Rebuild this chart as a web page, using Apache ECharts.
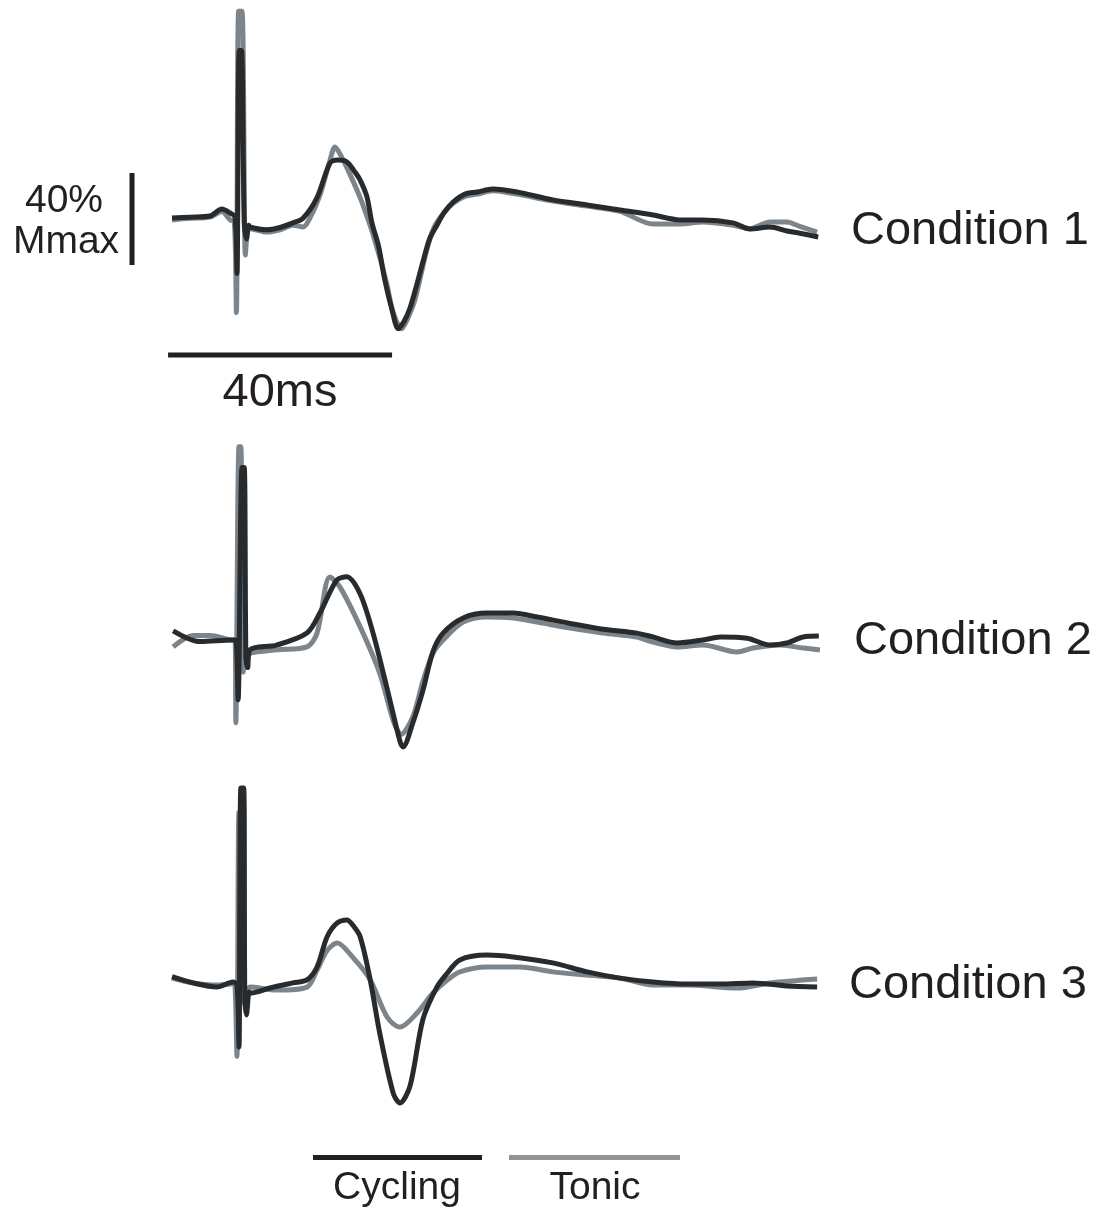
<!DOCTYPE html>
<html><head><meta charset="utf-8">
<script src="https://cdn.jsdelivr.net/npm/echarts@6/dist/echarts.min.js"></script>
<style>html,body{margin:0;padding:0;background:#fff}#c{width:1100px;height:1215px}</style>
</head><body><div id="c"></div>
<script>
// [time ms, amplitude %Mmax]
const cycling1 = [[0,-0.9],[3.2,-0.5],[6.8,0],[8.9,3],[10.4,1.3],[11.25,-0.4],[11.6,-25],[12.0,72],[12.4,72],[12.9,-3],[13.3,-10],[13.7,-4],[13.9,-4.8],[16.9,-6],[19.3,-5],[21.6,-3],[23.4,-1],[25.9,8],[28.2,23],[29.5,24.3],[31.25,23.5],[32.7,19],[33.6,15.6],[34.8,8.4],[35.7,-3],[36.9,-13.3],[38.0,-27.8],[39.3,-40.9],[40.4,-49],[41.4,-46],[42.5,-40],[43.7,-30],[44.8,-20],[46,-10],[47.3,-4],[48.6,1.5],[50.2,6],[52.3,9.5],[54.5,10.4],[57.3,11.7],[61.6,10.4],[68,7],[74.1,4.8],[80,2.6],[85.9,0.4],[90.7,-1.7],[94.8,-1.7],[100.2,-3],[103.2,-5.7],[106.8,-4.8],[109.8,-6.5],[112.1,-7.5],[115.4,-9.1]];
const tonic1 = [[0,-1.7],[3.2,-1],[6.8,-0.5],[8.9,2],[10.4,-1.7],[11.1,-2],[11.5,-42],[11.9,89],[12.5,89],[13.1,-17],[13.5,-6],[13.9,-5.5],[16.9,-7],[19.3,-6],[21.6,-4],[23.4,-4.8],[24.6,-1],[26.4,9],[28.2,24],[29.1,30],[30.0,27],[31.8,18],[33.6,8],[34.8,0],[35.9,-8],[37.1,-18],[38.4,-30],[39.5,-42],[41,-49],[42,-45],[43.3,-37],[44.6,-24],[45.8,-12],[47,-4],[48.6,1.5],[50.2,5.5],[52.3,8.5],[54.5,9.5],[57.3,11],[61.6,9.5],[68,6.5],[74.1,4.3],[80,2],[85.9,-3.5],[90.7,-3.5],[94.8,-2.6],[100.2,-4],[103.2,-5.5],[106.8,-2.6],[109.8,-2.6],[112.1,-4.5],[115.2,-7]];
const cycling2 = [[0.2,4],[5,-0.7],[10.9,0],[11.4,0],[11.8,-26],[12.5,75],[12.9,75],[13.2,-8],[13.5,-12],[13.9,-4.3],[18.7,-2.2],[24.1,3],[26.4,11.7],[29.4,26],[31.2,27.5],[33.6,20],[35.9,3],[38.3,-20],[40.7,-44],[41.25,-46.5],[43,-36],[44.8,-22],[46.6,-5],[48.4,3],[52,9.6],[56.25,11.7],[60.9,11.7],[65.2,10],[71.1,7.2],[77,4.7],[83,3],[85.9,1.3],[90.2,-1.3],[94.8,0],[97.9,1.3],[102.7,0.8],[106.8,-2.2],[109.8,-1.3],[112.7,1.3],[115.5,1.7]];
const tonic2 = [[0.2,-3],[3.75,2],[6.8,2],[10.9,0],[11.25,0],[11.4,-36],[11.96,84],[12.3,84],[12.7,-14],[13.2,-8],[13.9,-5.8],[18.75,-4.3],[24.1,-3],[25.9,3],[28.2,27.4],[30,23],[33.6,5.7],[37.1,-14.5],[39.5,-35],[40.9,-41],[43,-33.5],[44.8,-18],[46.6,-5.8],[48.4,0],[52,7.8],[56.25,10],[60.9,9.6],[65.2,7.8],[71.1,5.2],[77,3],[83,1.3],[85.9,-0.9],[90.2,-3],[94.8,-2.2],[100.9,-5.2],[103.75,-3.5],[108.6,-2.2],[112.7,-3.5],[115.7,-4.3]];
const cycling3 = [[0,3.6],[3.75,0.9],[8,-0.9],[10.9,1.3],[11.6,0],[11.96,-27],[12.3,85.6],[12.8,85.6],[13.0,-5],[13.3,-13],[13.75,-3],[13.9,-3.5],[17.5,-1.3],[21.6,0.9],[24.1,2.2],[25.9,7.8],[27.7,21],[29.5,27],[31.25,28.3],[32.3,26],[33.6,21],[35.4,2.2],[37.1,-21],[39.5,-47],[40.7,-51.3],[42.5,-44],[44.8,-15],[47.3,-0.9],[49.1,5],[51.4,10.9],[56.25,13],[60.9,12.2],[68,9.6],[74.1,5.7],[80,3],[85.9,1.3],[92,0.4],[97.9,0.4],[103.75,0.9],[109.8,-0.4],[115.2,-0.9]];
const tonic3 = [[0,3],[3.75,0.9],[8,0],[10.9,0.5],[11.25,0],[11.6,-31],[11.96,75],[12.3,75],[12.9,-8],[13.4,-4],[13.9,-0.9],[18.75,-2.2],[24.1,-0.9],[25.9,6.5],[27.7,15],[29.5,18.3],[32.3,12],[35.4,2.2],[38.4,-13.9],[40.7,-18.3],[43.75,-12.2],[46.6,-3.5],[49.1,2],[51.4,5.7],[56.25,7.8],[62.1,7.8],[68,5.7],[74.1,4.3],[80,3],[85.9,0],[92,0],[100.9,-1.3],[106.8,0.9],[115.2,2.6]];
const conditionLabels = ['Condition 1','Condition 2','Condition 3'];
const seriesNames = ['Cycling','Tonic'];
const scaleBarMs = 40;
const scaleBarPct = 40;
const scaleTimeLabel = '40ms';
const scaleAmpLabel = ['40%','Mmax'];

const DARK = '#272b2e', GRAY = '#7d858b', INK = '#231f20', LEG_GRAY = '#939393';
const FONT = '"Liberation Sans", Arial, sans-serif';
const PX_MS = 5.6, PX_PCT = 2.3;
const xMin = -8, xMax = 116;
const baselines = [216, 640, 985];
const yMin = -65, yMax = 90;
const gridLeft = 172 + xMin * PX_MS;
const grids = baselines.map(b => ({left: gridLeft, width: (xMax - xMin) * PX_MS, top: b - yMax * PX_PCT, height: (yMax - yMin) * PX_PCT}));
const xAxes = grids.map((g,i) => ({type:'value', gridIndex:i, min:xMin, max:xMax, show:false}));
const yAxes = grids.map((g,i) => ({type:'value', gridIndex:i, min:yMin, max:yMax, show:false}));
const pairs = [[cycling1,tonic1],[cycling2,tonic2],[cycling3,tonic3]];
const series = [];
pairs.forEach((p,i) => {
  series.push({type:'line', name:seriesNames[1], xAxisIndex:i, yAxisIndex:i, data:p[1], symbol:'none', smooth:0.3, clip:false, lineStyle:{color:GRAY, width:5, join:'round'}, z:2, silent:true});
  series.push({type:'line', name:seriesNames[0], xAxisIndex:i, yAxisIndex:i, data:p[0], symbol:'none', smooth:0.3, clip:false, lineStyle:{color:DARK, width:5, join:'round'}, z:3, silent:true});
});
// scale bars in data units on panel 1
const barT0 = -0.7, barLevel = -60.4;
series.push({type:'line', xAxisIndex:0, yAxisIndex:0, data:[[barT0,barLevel],[barT0+scaleBarMs,barLevel]], symbol:'none', clip:false, lineStyle:{color:INK,width:5,cap:'butt'}, silent:true});
const vT = -7.14, vTop = 18.7;
series.push({type:'line', xAxisIndex:0, yAxisIndex:0, data:[[vT,vTop],[vT,vTop-scaleBarPct]], symbol:'none', clip:false, lineStyle:{color:INK,width:5,cap:'butt'}, silent:true});

const txt = (x,y,t,size,align) => ({type:'text', x:x, y:y, style:{text:t, font:size+'px '+FONT, fill:INK, textAlign:align||'left', textVerticalAlign:'middle'}});
const graphic = [
  txt(851,231,conditionLabels[0],47),
  txt(854,641,conditionLabels[1],47),
  txt(849,985,conditionLabels[2],47),
  txt(280,393,scaleTimeLabel,47,'center'),
  txt(64,201,scaleAmpLabel[0],39,'center'),
  txt(66,242,scaleAmpLabel[1],39,'center'),
  {type:'rect', shape:{x:313,y:1155,width:169,height:5}, style:{fill:INK}},
  {type:'rect', shape:{x:509,y:1155,width:171,height:5}, style:{fill:LEG_GRAY}},
  txt(397,1188,seriesNames[0],39,'center'),
  txt(595,1188,seriesNames[1],39,'center')
];
const chart = echarts.init(document.getElementById('c'), null, {renderer:'canvas'});
chart.setOption({animation:false, backgroundColor:'#fff', grid:grids, xAxis:xAxes, yAxis:yAxes, series:series, graphic:graphic});
</script></body></html>
